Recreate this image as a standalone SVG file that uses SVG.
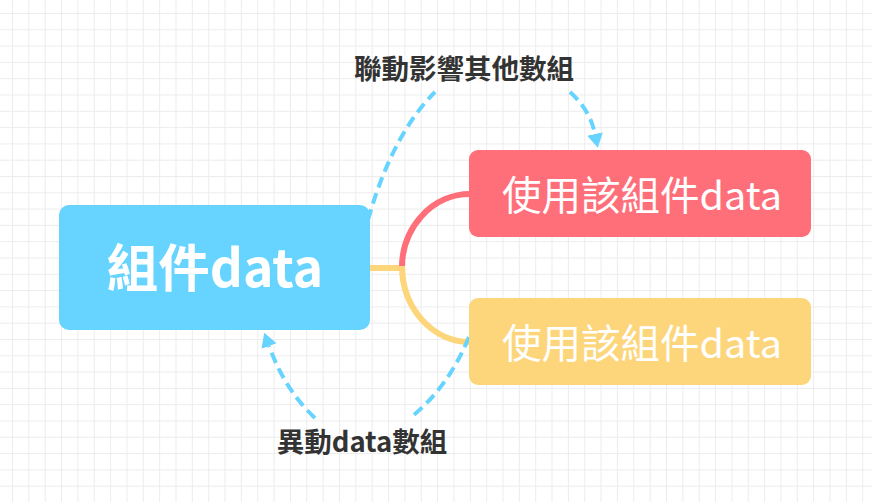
<svg xmlns="http://www.w3.org/2000/svg" width="872" height="502" viewBox="0 0 872 502">
<defs>
<pattern id="grid" x="12" y="13" width="16.35" height="16.3" patternUnits="userSpaceOnUse">
<path d="M0.5,0 V16.3 M0,0.5 H16.35" fill="none" stroke="#ececec" stroke-width="1"/>
</pattern>
<marker id="arr" viewBox="0 0 14 16" refX="0" refY="8" markerWidth="14" markerHeight="16" orient="auto" markerUnits="userSpaceOnUse">
<path d="M0,0 L14,8 L0,16 z" fill="#66d4ff"/>
</marker>
</defs>
<style>
.ttl{font-family:"Noto Sans CJK TC","Noto Sans",sans-serif;}
.node-main{fill:#66d4ff;}
.node-red{fill:#ff6f7a;}
.node-yel{fill:#fdd67c;}
.lbl{font-size:27.5px;font-weight:bold;fill:#333333;text-anchor:middle;}
.dash{fill:none;stroke:#66d4ff;stroke-width:4;stroke-dasharray:11 6;}
</style>
<rect width="872" height="502" fill="#ffffff"/>
<rect width="872" height="502" fill="url(#grid)"/>
<g id="connectors">
<path d="M370,268 H403" fill="none" stroke="#fdd67c" stroke-width="6"/>
<path d="M402,270 A68,74 0 0 1 470,194" fill="none" stroke="#ff6f7a" stroke-width="6"/>
<path d="M402,266 A68,76 0 0 0 470,342" fill="none" stroke="#fdd67c" stroke-width="6"/>
<path class="dash" d="M368,220 Q392,135 435,92"/>
<path class="dash" d="M570,92 Q590,110 595,134" marker-end="url(#arr)"/>
<path class="dash" d="M469,337 Q448,388 410,418"/>
<path class="dash" d="M315,418 Q285,390 269,346" marker-end="url(#arr)"/>
<text class="ttl lbl" x="464" y="79">聯動影響其他數組</text>
<text class="ttl lbl" x="362" y="452">異動data數組</text>
</g>
<g id="node-main">
<rect class="node-main" x="59" y="205" width="311" height="125" rx="10"/>
<text class="ttl" x="215" y="287" font-size="51.5" font-weight="bold" fill="#ffffff" text-anchor="middle">組件data</text>
</g>
<g id="node-use1">
<rect class="node-red" x="469" y="150" width="342" height="87" rx="9"/>
<text class="ttl" x="642" y="210" font-size="39.5" fill="#ffffff" text-anchor="middle">使用該組件data</text>
</g>
<g id="node-use2">
<rect class="node-yel" x="469" y="298" width="342" height="87" rx="9"/>
<text class="ttl" x="642" y="358" font-size="39.5" fill="#ffffff" text-anchor="middle">使用該組件data</text>
</g>
</svg>
